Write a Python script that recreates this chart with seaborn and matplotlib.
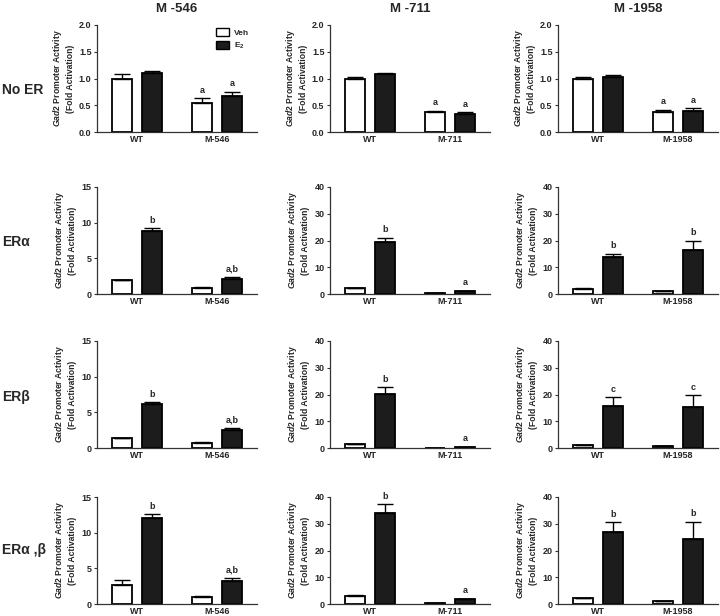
import numpy as np
import pandas as pd
import matplotlib
matplotlib.use('Agg')
import matplotlib.pyplot as plt
import seaborn as sns
from matplotlib.patches import Patch

# data
row_names = ['No ER', 'ERα', 'ERβ', 'ERα ,β']
col_titles = ['M -546', 'M -711', 'M -1958']
mutants = ['M-546', 'M-711', 'M-1958']
treatments = ['Veh', 'E2']

# [row][col] -> [WT, mutant]
veh_mean = [
    [[1.00, 0.55], [1.00, 0.37], [1.00, 0.38]],
    [[1.9, 0.9], [2.2, 0.3], [2.0, 1.0]],
    [[1.35, 0.7], [1.4, 0.15], [1.0, 0.6]],
    [[2.7, 1.0], [2.9, 0.2], [2.1, 1.1]],
]
veh_err = [
    [[0.08, 0.08], [0.02, 0.03], [0.03, 0.04]],
    [[0.1, 0.15], [0.2, 0.05], [0.2, 0.15]],
    [[0.05, 0.1], [0.2, 0.03], [0.1, 0.1]],
    [[0.7, 0.15], [0.3, 0.03], [0.2, 0.15]],
]
e2_mean = [
    [[1.11, 0.67], [1.08, 0.34], [1.03, 0.40]],
    [[8.8, 2.1], [19.3, 1.0], [14.0, 16.5]],
    [[6.1, 2.5], [20.3, 0.4], [15.7, 15.3]],
    [[12.0, 3.2], [34.2, 1.7], [27.0, 24.2]],
]
e2_err = [
    [[0.03, 0.08], [0.03, 0.03], [0.04, 0.04]],
    [[0.4, 0.35], [1.8, 0.2], [1.0, 3.4]],
    [[0.35, 0.35], [2.5, 0.1], [3.2, 4.5]],
    [[0.55, 0.4], [3.1, 0.3], [3.5, 6.5]],
]
veh_letters = [
    [['', 'a'], ['', 'a'], ['', 'a']],
    [['', ''], ['', ''], ['', '']],
    [['', ''], ['', ''], ['', '']],
    [['', ''], ['', ''], ['', '']],
]
e2_letters = [
    [['', 'a'], ['', 'a'], ['', 'a']],
    [['b', 'a,b'], ['b', 'a'], ['b', 'b']],
    [['b', 'a,b'], ['b', 'a'], ['c', 'c']],
    [['b', 'a,b'], ['b', 'a'], ['b', 'b']],
]
ylims = [
    [(0, 2, 0.5)] * 3,
    [(0, 15, 5), (0, 40, 10), (0, 40, 10)],
    [(0, 15, 5), (0, 40, 10), (0, 40, 10)],
    [(0, 15, 5), (0, 40, 10), (0, 40, 10)],
]

sns.set_style('ticks')
plt.rcParams['font.family'] = ['Liberation Sans', 'DejaVu Sans']
plt.rcParams['mathtext.fontset'] = 'custom'
plt.rcParams['mathtext.it'] = 'Liberation Sans:italic:bold'
plt.rcParams['mathtext.rm'] = 'Liberation Sans:bold'

W, H = 720, 616
fig = plt.figure(figsize=(7.2, 6.16), dpi=100)

col_left = [97, 330, 558]
row_top = [25, 187, 341, 497]
ax_w, ax_h = 160, 107
colors = {'Veh': 'white', 'E2': '#1c1c1c'}

for r in range(4):
    for c in range(3):
        ax = fig.add_axes([col_left[c] / W, 1 - (row_top[r] + ax_h) / H, ax_w / W, ax_h / H])
        genos = ['WT', mutants[c]]
        rows = []
        for g in range(2):
            rows.append([genos[g], 'Veh', veh_mean[r][c][g], veh_err[r][c][g], veh_letters[r][c][g]])
            rows.append([genos[g], 'E2', e2_mean[r][c][g], e2_err[r][c][g], e2_letters[r][c][g]])
        df = pd.DataFrame(rows, columns=['geno', 'treat', 'val', 'err', 'letter'])

        sns.barplot(data=df, x='geno', y='val', hue='treat', order=genos, hue_order=treatments,
                    palette=colors, edgecolor='black', linewidth=1.3, width=0.75, gap=0.33,
                    errorbar=None, legend=False, ax=ax)

        bars = sorted(ax.patches, key=lambda p: p.get_x())
        xs = [p.get_x() + p.get_width() / 2 for p in bars]
        ax.errorbar(xs, df['val'], yerr=[np.zeros(len(df)), df['err']], fmt='none',
                    ecolor='black', elinewidth=1, capsize=6, capthick=1, zorder=1)
        for x, v, e, t in zip(xs, df['val'], df['err'], df['letter']):
            if t:
                ax.annotate(t, (x, v + e), xytext=(0, 2.5), textcoords='offset points',
                            ha='center', va='bottom', fontsize=6.5, fontweight='bold')

        lo, hi, step = ylims[r][c]
        ax.set_ylim(lo, hi)
        ax.set_yticks(np.arange(lo, hi + step / 2, step))
        if hi <= 2:
            ax.set_yticklabels([f'{v:.1f}' for v in np.arange(lo, hi + step / 2, step)])
        ax.set_xlim(-0.5, 1.5)
        ax.set_xlabel('')
        ax.set_ylabel(r'$\mathit{Gad2}$ Promoter Activity' + '\n(Fold Activation)',
                      fontsize=6.2, fontweight='bold', labelpad=3, linespacing=1.25)
        ax.tick_params(axis='y', labelsize=6.5, length=2.5, width=0.8, pad=1.5, color='#333333')
        ax.tick_params(axis='x', labelsize=6.5, length=0, pad=2.5)
        for lab in ax.get_xticklabels() + ax.get_yticklabels():
            lab.set_fontweight('bold')
        sns.despine(ax=ax)
        for s in ['left', 'bottom']:
            ax.spines[s].set_color('#333333')
            ax.spines[s].set_linewidth(0.9)

        if r == 0:
            ax.set_title(col_titles[c], fontsize=9.5, fontweight='bold', pad=9)
        if r == 0 and c == 0:
            handles = [Patch(facecolor='white', edgecolor='black', linewidth=1),
                       Patch(facecolor='#1c1c1c', edgecolor='black', linewidth=1)]
            leg = ax.legend(handles, ['Veh', 'E$_2$'], loc='upper right', bbox_to_anchor=(1.0, 1.04),
                            frameon=False, prop={'size': 6, 'weight': 'bold'},
                            handlelength=1.6, handleheight=1.1, labelspacing=0.5, handletextpad=0.6)

label_y = [90, 242, 397, 550]
for name, y in zip(row_names, label_y):
    fig.text(2 / W, 1 - y / H, name, fontsize=10, fontweight='bold', va='center', ha='left')

fig.savefig('out.png', dpi=100, facecolor='white')
